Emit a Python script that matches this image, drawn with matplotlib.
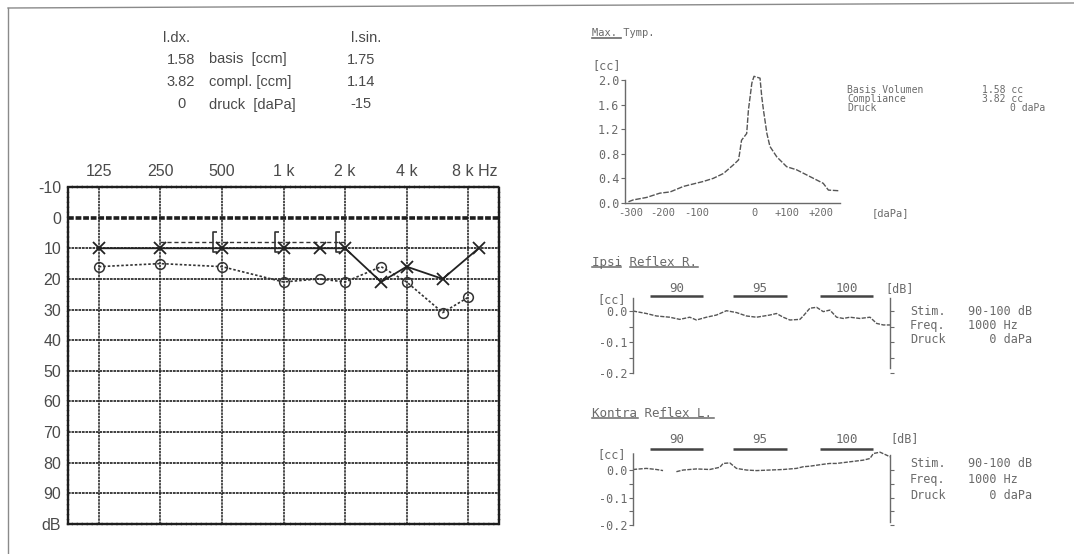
import numpy as np
import matplotlib
matplotlib.use("Agg")
import matplotlib.pyplot as plt
from matplotlib.lines import Line2D
from matplotlib.path import Path
from matplotlib.ticker import NullLocator
from matplotlib.transforms import ScaledTranslation

# ---------------- data ----------------
# audiogram
grid_freqs = [125, 250, 500, 1000, 2000, 4000, 8000]
freq_labels = ["125", "250", "500", "1 k", "2 k", "4 k", "8 k Hz"]
db_ticks = [-10, 0, 10, 20, 30, 40, 50, 60, 70, 80, 90, 100]
db_labels = ["-10", "0", "10", "20", "30", "40", "50", "60", "70", "80", "90", "dB"]

left_freqs = [125, 250, 500, 1000, 1500, 2000, 3000, 4000, 6000, 9000]
left_db = [10, 10, 10, 10, 10, 10, 21, 16, 20, 10]
right_freqs = [125, 250, 500, 1000, 1500, 2000, 3000, 4000, 6000, 8000]
right_db = [16, 15, 16, 21, 20, 21, 16, 21, 31, 26]
bone_freqs = [250, 500, 1000, 2000]
bone_db = [8, 8, 8, 8]

# impedance summary table
table_rows = ["basis  [ccm]", "compl. [ccm]", "druck  [daPa]"]
table_right = ["1.58", "3.82", "0"]
table_left = ["1.75", "1.14", "-15"]

# tympanogram
tymp_pressure = [-292, -281, -250, -219, -195, -164, -141, -118, -95, -71, -48,
                 -36, -33, -29, -17, -13, -5, 0, 14, 18, 22, 30, 37, 53, 76,
                 99, 130, 161, 173, 196]
tymp_cc = [0.02, 0.05, 0.09, 0.16, 0.18, 0.27, 0.31, 0.35, 0.40, 0.48, 0.62,
           0.70, 0.83, 1.02, 1.13, 1.51, 1.95, 2.06, 2.03, 1.73, 1.51, 1.13,
           0.92, 0.75, 0.59, 0.54, 0.43, 0.32, 0.21, 0.20]
tymp_yticks = [0.0, 0.4, 0.8, 1.2, 1.6, 2.0]
tymp_info = [("Basis Volumen", "1.58 cc"), ("Compliance", "3.82 cc"), ("Druck", "0 daPa")]

# acoustic reflexes
stim_levels = [90, 95, 100]
stim_start = [5, 30, 56]
stim_end = [21, 46, 72]

ipsi_t = [0, 4, 7, 11, 14, 17, 19, 22, 25, 28, 31, 34, 37, 41, 43, 45, 47, 50,
          51, 53, 55, 57, 59, 61, 63, 65, 68, 71, 73, 75, 77]
ipsi_cc = [0.000, -0.008, -0.016, -0.020, -0.027, -0.020, -0.029, -0.020,
           -0.013, 0.001, -0.005, -0.016, -0.020, -0.013, -0.008, -0.020,
           -0.029, -0.027, -0.016, 0.009, 0.012, -0.002, 0.003, -0.020,
           -0.024, -0.020, -0.024, -0.020, -0.040, -0.045, -0.045]
ipsi_info = [("Stim.", "90-100 dB"), ("Freq.", "1000 Hz"), ("Druck", "   0 daPa")]

contra_t = [0, 4, 7, 9, 11, 13, 15, 19, 23, 26, 27, 29, 31, 34, 37, 41, 45, 49,
            51, 53, 57, 59, 61, 65, 67, 69, 71, 72, 74, 76, 77]
contra_cc = [0.002, 0.006, 0.002, -0.002, np.nan, -0.006, 0.000, 0.004, 0.002,
             0.010, 0.024, 0.026, 0.006, 0.000, -0.002, 0.000, 0.002, 0.006,
             0.012, 0.014, 0.021, 0.024, 0.024, 0.030, 0.033, 0.036, 0.042,
             0.060, 0.065, 0.054, 0.048]
contra_info = [("Stim.", "90-100 dB"), ("Freq.", "1000 Hz"), ("Druck", "   0 daPa")]

# ---------------- figure ----------------
W, H = 1074, 554
DPI = 100
fig = plt.figure(figsize=(W / DPI, H / DPI), dpi=DPI, facecolor="white")

SANS = ["Liberation Sans", "DejaVu Sans"]
MONO = ["DejaVu Sans Mono"]
TXT = "#4a4a4a"
DOT = "#6a6a6a"
GRID = "#1e1e1e"
DOTTED = (0, (1.6, 0.5))

# bone-conduction bracket, drawn just left of its frequency
BRACKET = Path([(-0.55, 1.0), (-0.95, 1.0), (-0.95, -1.0), (-0.55, -1.0)],
               [Path.MOVETO, Path.LINETO, Path.LINETO, Path.LINETO])


def px_axes(x0, y0, x1, y1):
    return fig.add_axes([x0 / W, 1 - y1 / H, (x1 - x0) / W, (y1 - y0) / H])


def ptext(x, y, s, **kw):
    kw.setdefault("va", "center_baseline")
    return fig.text(x / W, 1 - y / H, s, **kw)


def pline(xs, ys, **kw):
    fig.add_artist(Line2D([x / W for x in xs], [1 - y / H for y in ys],
                          transform=fig.transFigure, **kw))


def mono(size):
    return dict(family=MONO, fontsize=size, color=DOT)


# page border
pline([8, 1074], [8, 3], color="#8a8a8a", lw=1.0)
pline([8, 8], [8, 554], color="#8a8a8a", lw=1.0)

# ---------------- audiogram ----------------
ax = px_axes(68, 187, 499, 524)
ax.set_xscale("log", base=2)
ax.set_xlim(125 / np.sqrt(2), 8000 * np.sqrt(2))
ax.set_ylim(100, -10)
ax.xaxis.tick_top()
ax.set_xticks(grid_freqs)
ax.set_xticklabels(freq_labels, family=SANS, fontsize=11.5, color=TXT)
ax.xaxis.set_minor_locator(NullLocator())
ax.set_yticks(db_ticks)
ax.set_yticklabels(db_labels, family=SANS, fontsize=11.5, color=TXT)
ax.tick_params(axis="x", length=0, pad=6)
ax.tick_params(axis="y", length=0, pad=5)
hz = ax.get_xticklabels()[-1]
hz.set_transform(hz.get_transform() + ScaledTranslation(7 / DPI, 0, fig.dpi_scale_trans))

for f in grid_freqs:
    ax.axvline(f, color=GRID, lw=1.1, ls=DOTTED, zorder=1)
for d in range(0, 100, 10):
    ax.axhline(d, color=GRID, lw=2.6 if d == 0 else 1.2, ls=DOTTED, zorder=1)
for s in ax.spines.values():
    s.set_linewidth(1.7)
    s.set_color(GRID)
    s.set_linestyle(DOTTED)

ax.plot(bone_freqs, bone_db, color="#333333", lw=1.0, ls=(0, (3, 2)),
        marker=BRACKET, ms=14, mew=1.2, mfc="none", markevery=[1, 2, 3], zorder=3)
ax.plot(right_freqs, right_db, color="#333333", lw=1.2, ls=(0, (1.5, 1.2)),
        marker="o", ms=7, mfc="none", mew=1.1, zorder=4)
ax.plot(left_freqs, left_db, color="#222222", lw=1.3, marker="x", ms=8,
        mew=1.3, zorder=5)

# summary table above the audiogram
TAB = dict(family=SANS, fontsize=10.5, color=TXT)
ptext(177, 36, "l.dx.", ha="center", **TAB)
ptext(366, 36, "l.sin.", ha="center", **TAB)
for i, (lab, rv, lv) in enumerate(zip(table_rows, table_right, table_left)):
    y = 58 + 22.5 * i
    ptext(181, y, rv, ha="center", **TAB)
    ptext(209, y, lab, ha="left", **TAB)
    ptext(361, y, lv, ha="center", **TAB)

# ---------------- tympanogram ----------------
ptext(592, 32, "Max. Tymp.", ha="left", **mono(7.5))
pline([592, 621], [38, 38], color=DOT, lw=1.2)

tx = px_axes(625, 80, 840, 203)
tx.set_xlim(-300, 200)
tx.set_ylim(0, 2.0)
tx.patch.set_alpha(0)
for s in ("top", "right"):
    tx.spines[s].set_visible(False)
for s in ("left", "bottom"):
    tx.spines[s].set_color(DOT)
    tx.spines[s].set_linewidth(1.0)
    tx.spines[s].set_linestyle((0, (2, 1)))
tx.set_yticks(tymp_yticks)
tx.set_yticklabels([f"{v:.1f}" for v in tymp_yticks], **mono(8.5))
tx.tick_params(axis="y", length=3, width=0.8, color=DOT, pad=1)
tx.set_xticks([])
tx.plot(tymp_pressure, tymp_cc, color="#555555", lw=1.0, ls=(0, (4, 1.2)),
        clip_on=False)
ptext(621, 64, "[cc]", ha="right", **mono(8.5))
for x, s in [(631, "-300"), (663, "-200"), (697, "-100"), (755, "0"),
             (787, "+100"), (821, "+200"), (890, "[daPa]")]:
    ptext(x, 212, s, ha="center", **mono(7.5))
for i, (lab, val) in enumerate(tymp_info):
    y = 89 + 9 * i
    ptext(847, y, lab, ha="left", **mono(7))
    ptext(1045 if "daPa" in val else 1023, y, val, ha="right", **mono(7))


# ---------------- reflexes ----------------
def reflex_panel(box, ylim, t, cc, title, title_y, uline, bar_y, lab_y,
                 db_pos, right_top, right_bot, info, info_y0, info_dy):
    rx = px_axes(*box)
    rx.set_xlim(0, 77)
    rx.set_ylim(*ylim)
    rx.patch.set_alpha(0)
    for s in ("top", "bottom"):
        rx.spines[s].set_visible(False)
    for s in ("left", "right"):
        rx.spines[s].set_color(DOT)
        rx.spines[s].set_linewidth(1.0)
        rx.spines[s].set_linestyle((0, (1.5, 1)))
    rx.spines["right"].set_bounds(right_bot, right_top)
    rx.set_xticks([])
    rx.set_yticks([0.0, -0.1, -0.2])
    rx.set_yticklabels(["0.0", "-0.1", "-0.2"], **mono(8.5))
    rx.set_yticks([-0.05, -0.15], minor=True)
    rx.yaxis.set_ticks_position("both")
    rx.tick_params(axis="y", which="both", length=3, width=0.8, color=DOT,
                   pad=1, labelright=False)
    rx.plot(t, cc, color="#555555", lw=1.0, ls=(0, (3, 1)), clip_on=False)
    for s0, s1, lvl in zip(stim_start, stim_end, stim_levels):
        rx.plot([s0, s1], [bar_y, bar_y], color="#444444", lw=1.8,
                solid_capstyle="butt", clip_on=False)
        rx.text((s0 + s1) / 2, lab_y, str(lvl), ha="center",
                va="center_baseline", clip_on=False, **mono(9))
    ptext(626, box[1], "[cc]", ha="right", **mono(8.5))
    ptext(db_pos[0], db_pos[1], "[dB]", ha="left", **mono(8.5))
    ptext(592, title_y, title, ha="left", **mono(9))
    for ux0, ux1 in uline:
        pline([ux0, ux1], [title_y + 6, title_y + 6], color=DOT, lw=1.1)
    for i, (lab, val) in enumerate(info):
        y = info_y0 + info_dy * i
        ptext(910, y, lab, ha="left", **mono(8.5))
        ptext(968, y, val, ha="left", **mono(8.5))


reflex_panel((633, 298, 890, 373), (-0.2, 0.042), ipsi_t, ipsi_cc,
             "Ipsi Reflex R.", 261, [(592, 621), (630, 698)], 0.048, 0.077,
             (885, 287), 0.042, -0.184, ipsi_info, 310, 14)
reflex_panel((633, 453, 890, 525), (-0.2, 0.062), contra_t, contra_cc,
             "Kontra Reflex L.", 412, [(592, 638), (660, 714)], 0.076, 0.116,
             (890, 437), 0.055, -0.189, contra_info, 462, 16)

fig.savefig("out.png", dpi=DPI, facecolor="white")
